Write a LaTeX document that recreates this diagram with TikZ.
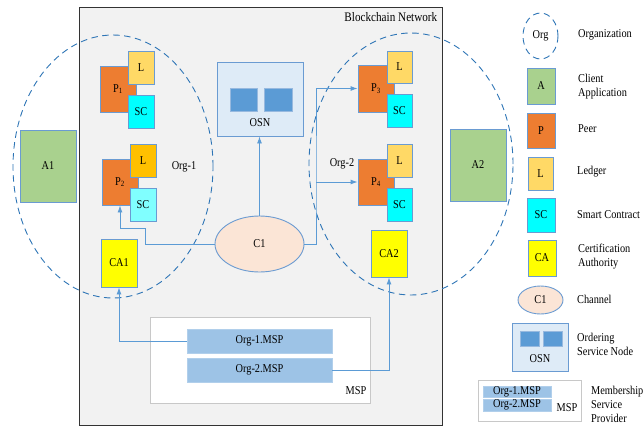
\documentclass[tikz,border=0pt]{standalone}
\usepackage{fontspec}
\setmainfont[FakeStretch=0.86]{Liberation Serif}
\usetikzlibrary{shapes.geometric,arrows.meta}

\definecolor{edgeblue}{HTML}{6A9BD2}
\definecolor{linkblue}{HTML}{5B9BD5}
\definecolor{orgblue}{HTML}{2E75B6}
\definecolor{netgray}{HTML}{F2F2F2}
\definecolor{peerorange}{HTML}{ED7D31}
\definecolor{ledgeryellow}{HTML}{FFD966}
\definecolor{ledgergold}{HTML}{FFC000}
\definecolor{sccyan}{HTML}{00FFFF}
\definecolor{sclight}{HTML}{80FFFF}
\definecolor{cayellow}{HTML}{FFFF00}
\definecolor{appgreen}{HTML}{A9D18E}
\definecolor{osnfill}{HTML}{DEEBF7}
\definecolor{osnsquare}{HTML}{5B9BD5}
\definecolor{chanfill}{HTML}{FBE5D6}
\definecolor{mspbar}{HTML}{9DC3E6}
\definecolor{mspedge}{HTML}{C8C8C8}

\tikzset{
  every node/.style={font=\fontsize{12}{14}\selectfont, inner sep=0pt},
  box/.style={draw=edgeblue, line width=0.9pt, rectangle},
  peerbox/.style={box, fill=peerorange},
  ledgerbox/.style={box, fill=ledgeryellow},
  scbox/.style={box, fill=sccyan},
  cabox/.style={box, fill=cayellow},
  appbox/.style={box, fill=appgreen},
  osnbox/.style={box, fill=osnfill},
  osnsq/.style={draw=edgeblue!70, line width=0.6pt, fill=osnsquare},
  chan/.style={ellipse, draw=edgeblue, line width=0.9pt, fill=chanfill},
  orgell/.style={ellipse, draw=orgblue, line width=0.9pt, dash pattern=on 6.5pt off 4.5pt},
  mspframe/.style={draw=mspedge, line width=0.8pt, fill=white},
  mspbarbox/.style={draw=mspbar!80!white, line width=0.6pt, fill=mspbar},
  conn/.style={draw=linkblue, line width=0.9pt},
  arr/.style={conn, -{Latex[length=7pt,width=5pt]}},
  legtext/.style={anchor=west, align=left},
}

\begin{document}
\begin{tikzpicture}[x=1pt, y=-1pt]
\useasboundingbox (0,0) rectangle (643,426);

% blockchain network frame
\node[draw=black!80, line width=1pt, fill=netgray, minimum width=363pt, minimum height=418pt] (bcn) at (260.5,216) {};
\node[anchor=north east, font=\fontsize{13}{15}\selectfont] (bcnlabel) at ([xshift=-5pt,yshift=-6pt]bcn.north east) {Blockchain Network};

% client applications
\node[appbox, minimum width=56pt, minimum height=72pt] (a1) at (48,166) {A1};
\node[appbox, minimum width=56pt, minimum height=72pt] (a2) at (478,165) {A2};

% ordering service node
\node[osnbox, minimum width=86pt, minimum height=74pt] (osn) at (260,99) {};
\node[osnsq, minimum width=27pt, minimum height=23pt] (osnq1) at (243.5,99.5) {};
\node[osnsq, minimum width=28pt, minimum height=23pt] (osnq2) at (278,99.5) {};
\node (osnlabel) at (260,123) {OSN};

% membership service provider
\node[mspframe, minimum width=220pt, minimum height=86pt] (msp) at (260,360) {};
\node (msplabel) at (356,391) {MSP};
\node[mspbarbox, minimum width=145pt, minimum height=24pt] (msp1) at (259.5,341) {Org-1.MSP};
\node[mspbarbox, minimum width=145pt, minimum height=24pt] (msp2) at (259.5,370) {Org-2.MSP};

% peers with ledgers and smart contracts
\node[peerbox, minimum width=36pt, minimum height=46pt] (p1) at (118,89) {P\textsubscript{1}};
\node[ledgerbox, minimum width=26pt, minimum height=33pt] (l1) at (141,67.5) {L};
\node[scbox, minimum width=26pt, minimum height=33pt] (sc1) at (141,111.5) {SC};

\node[peerbox, minimum width=36pt, minimum height=46pt] (p2) at (120,182) {P\textsubscript{2}};
\node[box, fill=ledgergold, minimum width=26pt, minimum height=33pt] (l2) at (143,160.5) {L};
\node[box, fill=sclight, minimum width=26pt, minimum height=33pt] (sc2) at (143,204.5) {SC};

\node[peerbox, minimum width=36pt, minimum height=47pt] (p3) at (376,88.5) {P\textsubscript{3}};
\node[ledgerbox, minimum width=25pt, minimum height=32pt] (l3) at (399.5,67) {L};
\node[scbox, minimum width=25pt, minimum height=33pt] (sc3) at (399.5,110.5) {SC};

\node[peerbox, minimum width=36pt, minimum height=46pt] (p4) at (376,182) {P\textsubscript{4}};
\node[ledgerbox, minimum width=25pt, minimum height=33pt] (l4) at (399.5,160.5) {L};
\node[scbox, minimum width=25pt, minimum height=33pt] (sc4) at (399.5,204.5) {SC};

% certification authorities
\node[cabox, minimum width=36pt, minimum height=48pt] (ca1) at (119,263) {CA1};
\node[cabox, minimum width=36pt, minimum height=47pt] (ca2) at (389,253.5) {CA2};

% channel
\node[chan, minimum width=89pt, minimum height=56pt] (c1) at (259.5,244) {C1};

% organisations
\node[orgell, minimum width=200pt, minimum height=263pt] (org1) at (113,166.5) {};
\node[orgell, minimum width=204pt, minimum height=262pt] (org2) at (411,164) {};
\node (org1label) at (184,167) {Org-1};
\node (org2label) at (342,164) {Org-2};

% channel links
\draw[arr] (c1.north) -- (c1.north |- osn.south);
\draw[arr] (c1.west) -- (145,244) |- (120,228) -- (p2.south);
\coordinate (split) at (316,182);
\draw[arr] (c1.east) -| (split) |- (p3.west);
\draw[arr] (split) -- (p4.west);

% MSP links
\draw[arr] (msp1.west) -| (ca1.south);
\draw[arr] (msp2.east) -| (ca2.south);

% legend
\node[orgell, minimum width=35pt, minimum height=46pt] (korg) at (540.5,36) {Org};
\node[legtext] (korgt) at (578,35) {Organization};
\node[appbox, minimum width=28pt, minimum height=36pt] (kapp) at (541,86) {A};
\node[legtext] (kappt) at (578,87) {Client\\Application};
\node[peerbox, minimum width=28pt, minimum height=35pt] (kpeer) at (541,130.5) {P};
\node[legtext] (kpeert) at (578,129) {Peer};
\node[ledgerbox, minimum width=25pt, minimum height=33pt] (kled) at (540.5,173.5) {L};
\node[legtext] (kledt) at (577,172) {Ledger};
\node[scbox, minimum width=28pt, minimum height=34pt] (ksc) at (541,215) {SC};
\node[legtext] (ksct) at (577,215) {Smart Contract};
\node[cabox, minimum width=28pt, minimum height=36pt] (kca) at (542,258) {CA};
\node[legtext] (kcat) at (578,257) {Certification\\Authority};
\node[chan, minimum width=45pt, minimum height=28pt] (kchan) at (540.5,300) {C1};
\node[legtext] (kchant) at (577,299) {Channel};
\node[osnbox, minimum width=56pt, minimum height=48pt] (kosn) at (540,347) {};
\node[osnsq, minimum width=19pt, minimum height=15pt] (kosnq1) at (529.5,338.5) {};
\node[osnsq, minimum width=19pt, minimum height=15pt] (kosnq2) at (552.5,338.5) {};
\node (kosnlabel) at (540,359) {OSN};
\node[legtext] (kosnt) at (577,344) {Ordering\\Service Node};
\node[mspframe, minimum width=103pt, minimum height=41pt] (kmsp) at (529.5,400.5) {};
\node[mspbarbox, minimum width=68pt, minimum height=11pt] (kmsp1) at (517,391.5) {Org-1.MSP};
\node[mspbarbox, minimum width=68pt, minimum height=12pt] (kmsp2) at (517,405) {Org-2.MSP};
\node (kmsplabel) at (567,408) {MSP};
\node[legtext] (kmspt) at (591,404) {Membership\\Service\\Provider};
\end{tikzpicture}
\end{document}
